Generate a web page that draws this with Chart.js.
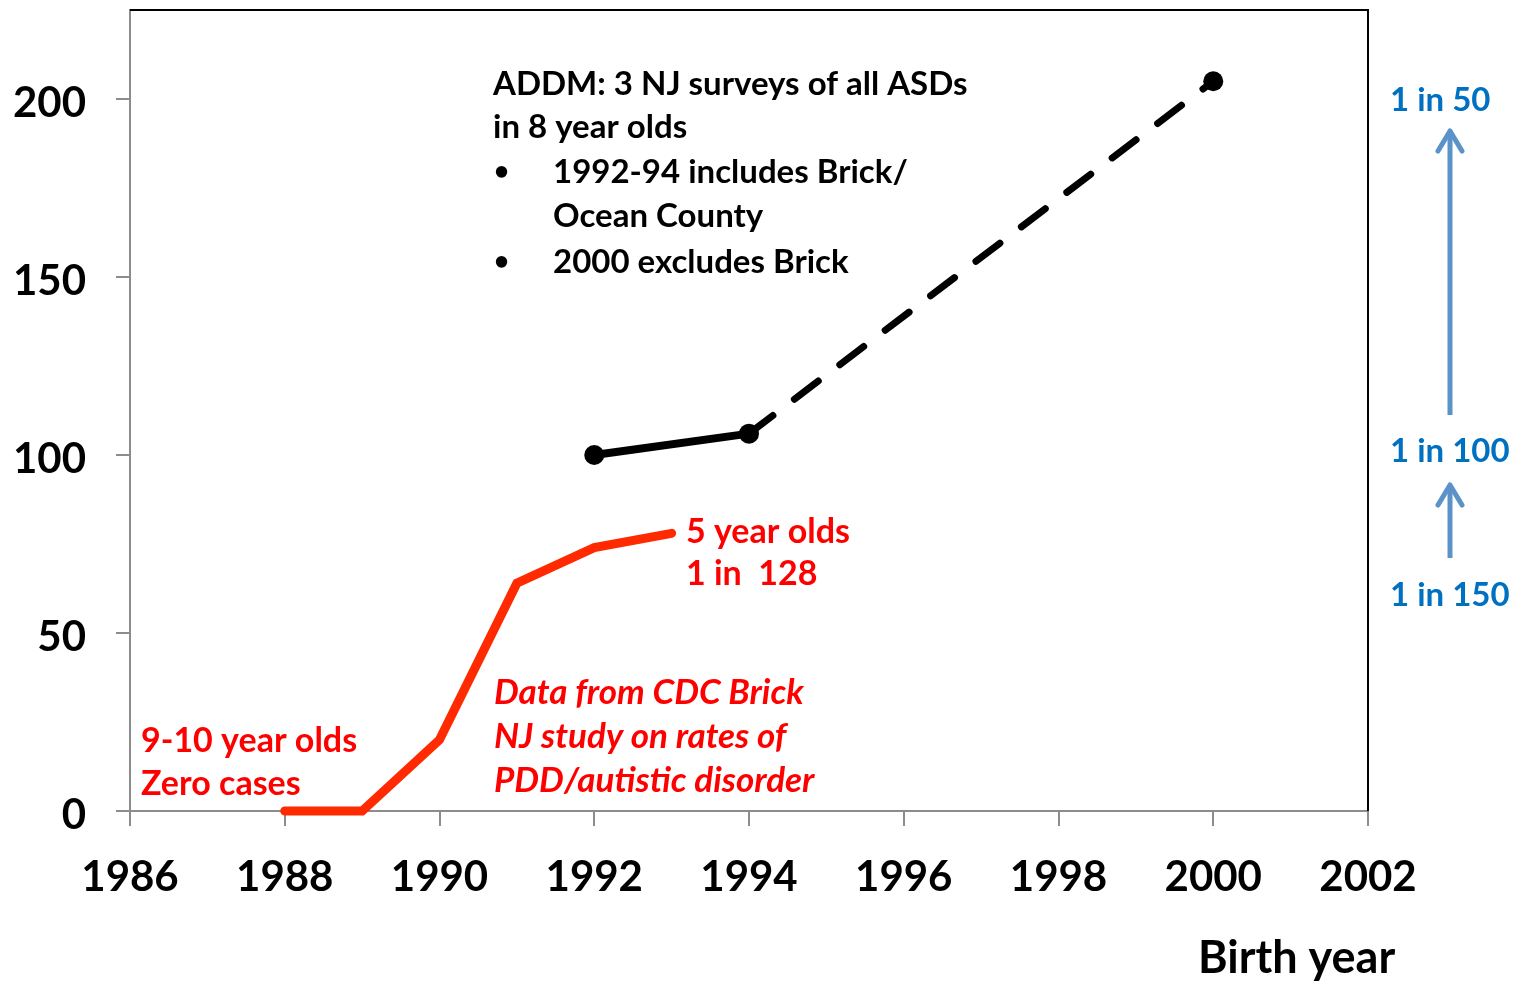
<!DOCTYPE html>
<html>
<head>
<meta charset="utf-8">
<script src="https://cdn.jsdelivr.net/npm/chart.js@4/dist/chart.umd.min.js"></script>
<style>
html,body{margin:0;padding:0;background:#fff;}
#wrap{width:1530px;height:981px;position:relative;}
</style>
</head>
<body>
<div id="wrap"><canvas id="c" width="1530" height="981"></canvas></div>
<script>
// ---- data ----
const xTickLabels = [1986, 1988, 1990, 1992, 1994, 1996, 1998, 2000, 2002];
const yTickLabels = [0, 50, 100, 150, 200];
const brickYears = [1988, 1989, 1990, 1991, 1992, 1993];
const brickRates = [0, 0, 20, 64, 74, 78];
const addmSolidYears = [1992, 1994];
const addmSolidRates = [100, 106];
const addmDashYears = [1994, 2000];
const addmDashRates = [106, 205];

const toPts = (xs, ys) => xs.map((x, i) => ({x: x, y: ys[i]}));

const FONT = 'Lato, "Open Sans", sans-serif';
const GRAY = '#8c8c8c';

const overlay = {
  id: 'overlay',
  afterDraw(chart) {
    const ctx = chart.ctx;
    const a = chart.chartArea;
    ctx.save();
    // top & right frame
    ctx.strokeStyle = '#000';
    ctx.lineWidth = 2;
    ctx.beginPath();
    ctx.moveTo(a.left, a.top);
    ctx.lineTo(a.right, a.top);
    ctx.lineTo(a.right, a.bottom);
    ctx.stroke();

    ctx.textBaseline = 'middle';
    ctx.textAlign = 'left';
    // ADDM note
    ctx.fillStyle = '#000';
    ctx.font = 'bold 33px ' + FONT;
    ctx.fillText('ADDM: 3 NJ surveys of all ASDs', 493, 84);
    ctx.fillText('in 8 year olds', 493, 127);
    ctx.fillText('1992-94 includes Brick/', 553, 172);
    ctx.fillText('Ocean County', 553, 216);
    ctx.fillText('2000 excludes Brick', 553, 262);
    ctx.font = 'bold 26px ' + FONT;
    ctx.fillText('•', 494, 172);
    ctx.fillText('•', 494, 262);

    // red notes
    ctx.fillStyle = '#ff0000';
    ctx.font = 'bold 34px ' + FONT;
    ctx.fillText('5 year olds', 686, 532);
    ctx.fillText('1 in  128', 686, 574);
    ctx.fillText('9-10 year olds', 141, 741);
    ctx.fillText('Zero cases', 141, 784);
    ctx.font = 'italic bold 35px ' + FONT;
    ctx.fillText('Data from CDC Brick', 494, 693);
    ctx.fillText('NJ study on rates of', 494, 737);
    ctx.fillText('PDD/autistic disorder', 494, 781);

    // blue ratio labels
    ctx.fillStyle = '#0070c0';
    ctx.font = 'bold 33px ' + FONT;
    ctx.fillText('1 in 50', 1390, 100);
    ctx.fillText('1 in 100', 1390, 451);
    ctx.fillText('1 in 150', 1390, 595);

    // arrows
    ctx.strokeStyle = '#5b93c8';
    ctx.lineWidth = 5;
    ctx.lineJoin = 'round';
    function arrow(x, y0, y1) {
      ctx.beginPath();
      ctx.lineCap = 'butt';
      ctx.moveTo(x, y0);
      ctx.lineTo(x, y1 + 2);
      ctx.stroke();
      ctx.lineCap = 'round';
      ctx.beginPath();
      ctx.moveTo(x - 12, y1 + 20);
      ctx.lineTo(x, y1);
      ctx.lineTo(x + 12, y1 + 20);
      ctx.stroke();
    }
    arrow(1450, 415, 131);
    arrow(1450, 558, 485);

    // axis title
    ctx.fillStyle = '#000';
    ctx.font = 'bold 45px ' + FONT;
    ctx.fillText('Birth year', 1198, 958);
    ctx.restore();
  }
};

new Chart(document.getElementById('c'), {
  type: 'line',
  data: {
    datasets: [
      {
        data: toPts(brickYears, brickRates),
        borderColor: '#ff2a00',
        borderWidth: 9,
        pointRadius: 0,
        tension: 0,
        borderCapStyle: 'round',
        borderJoinStyle: 'miter',
        clip: false
      },
      {
        data: toPts(addmSolidYears, addmSolidRates),
        borderColor: '#000',
        backgroundColor: '#000',
        borderWidth: 8,
        pointRadius: 10,
        pointBorderWidth: 0,
        pointBackgroundColor: '#000',
        tension: 0,
        clip: false
      },
      {
        data: toPts(addmDashYears, addmDashRates),
        borderColor: '#000',
        backgroundColor: '#000',
        borderWidth: 7,
        borderDash: [30, 27],
        borderCapStyle: 'round',
        pointRadius: [0, 10],
        pointBorderWidth: 0,
        pointBackgroundColor: '#000',
        tension: 0,
        clip: false
      }
    ]
  },
  options: {
    responsive: false,
    animation: false,
    events: [],
    layout: {padding: {top: 10, right: 162, left: 0, bottom: 0}},
    plugins: {legend: {display: false}, tooltip: {enabled: false}, title: {display: false}},
    scales: {
      x: {
        type: 'linear',
        min: xTickLabels[0],
        max: xTickLabels[xTickLabels.length - 1],
        afterBuildTicks: s => { s.ticks = xTickLabels.map(v => ({value: v})); },
        afterFit: s => { s.height = 170; s.paddingLeft = 0; s.paddingRight = 0; },
        grid: {drawOnChartArea: false, tickLength: 15, color: GRAY, lineWidth: 2},
        border: {color: GRAY, width: 2},
        ticks: {
          autoSkip: false,
          maxRotation: 0,
          padding: 26,
          color: '#000',
          font: {family: FONT, weight: 'bold', size: 42},
          callback: v => String(v)
        }
      },
      y: {
        min: 0,
        max: 225,
        afterBuildTicks: s => { s.ticks = yTickLabels.map(v => ({value: v})); },
        afterFit: s => { s.width = 130; s.paddingTop = 0; s.paddingBottom = 0; },
        grid: {drawOnChartArea: false, tickLength: 14, color: GRAY, lineWidth: 2},
        border: {color: GRAY, width: 2},
        ticks: {
          padding: 30,
          labelOffset: 4,
          color: '#000',
          font: {family: FONT, weight: 'bold', size: 42},
          callback: v => String(v)
        }
      }
    }
  },
  plugins: [overlay]
});
</script>
</body>
</html>
